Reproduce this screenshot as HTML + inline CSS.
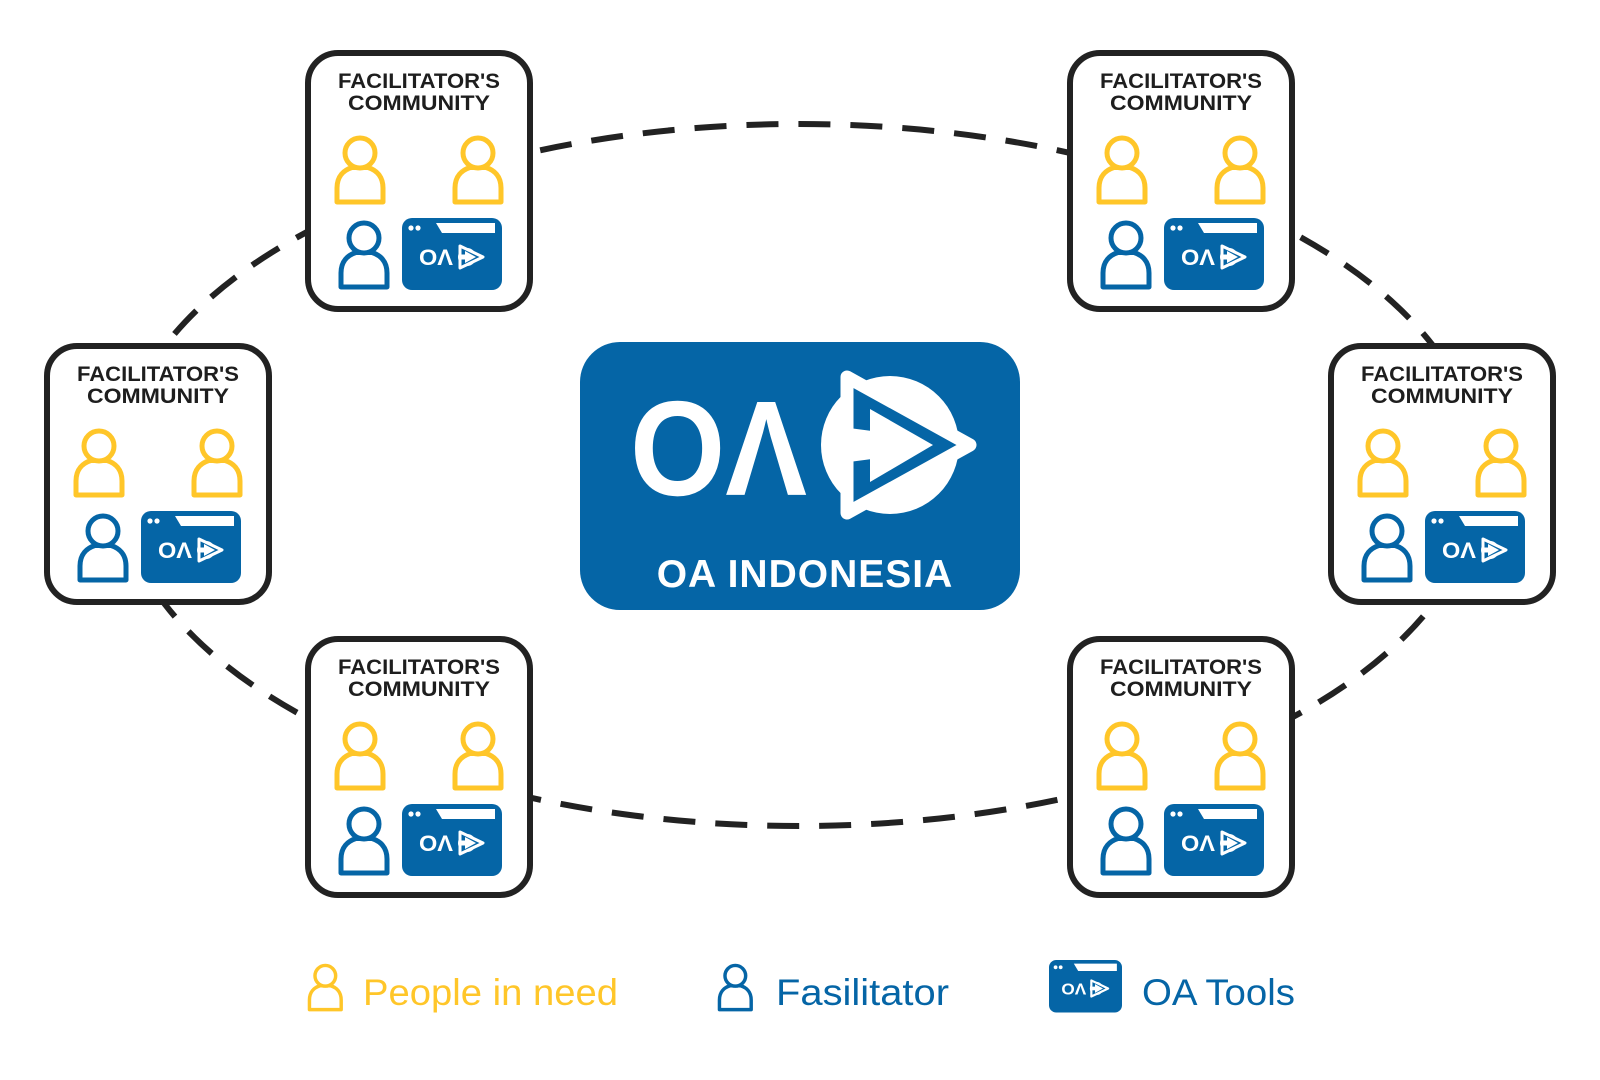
<!DOCTYPE html>
<html><head><meta charset="utf-8"><style>
html,body{margin:0;padding:0;background:#fff;width:1600px;height:1080px;overflow:hidden}
svg{display:block}
</style></head><body>
<svg width="1600" height="1080" viewBox="0 0 1600 1080" xmlns="http://www.w3.org/2000/svg">
<defs>
<g id="person">
<path d="M5,69 V55 C5,43 12,37 20,34.5 L36,34.5 C44,37 51,43 51,55 V69 Z" fill="#fff" stroke-width="5" stroke-linejoin="round"/>
<circle cx="28" cy="20" r="15" fill="#fff" stroke-width="5"/>
</g>
<g id="tool">
<rect x="0" y="0" width="100" height="72" rx="10" fill="#0565A6"/>
<polygon points="34,5 93,5 93,15 40,15" fill="#fff"/>
<circle cx="9" cy="10" r="2.6" fill="#fff"/>
<circle cx="16" cy="10" r="2.6" fill="#fff"/>
<text x="17" y="47" font-family="Liberation Sans, sans-serif" font-weight="bold" font-size="22" fill="#fff" textLength="34" lengthAdjust="spacingAndGlyphs">OΛ</text>
<circle cx="65" cy="39" r="9" fill="#fff"/>
<polygon points="58,28 81,39 58,50" fill="#0565A6" stroke="#fff" stroke-width="3" stroke-linejoin="round"/>
<polygon points="63,33 74,39 63,45" fill="#fff"/>
<rect x="57" y="36.5" width="7" height="5" fill="#fff"/>
</g>
<g id="card">
<rect x="3" y="3" width="222" height="256" rx="30" fill="#fff" stroke="#222" stroke-width="6"/>
<text x="114" y="38" text-anchor="middle" font-family="Liberation Sans, sans-serif" font-weight="bold" font-size="21" fill="#1e1e1e" textLength="162" lengthAdjust="spacingAndGlyphs">FACILITATOR'S</text>
<text x="114" y="60" text-anchor="middle" font-family="Liberation Sans, sans-serif" font-weight="bold" font-size="21" fill="#1e1e1e" textLength="142" lengthAdjust="spacingAndGlyphs">COMMUNITY</text>
<use href="#person" x="27" y="83" stroke="#FFC629"/>
<use href="#person" x="145" y="83" stroke="#FFC629"/>
<use href="#person" x="31" y="168" stroke="#0565A6"/>
<use href="#tool" x="97" y="168"/>
</g>
</defs>

<ellipse cx="799" cy="475" rx="682" ry="351" fill="none" stroke="#222" stroke-width="6" stroke-dasharray="32 20"/>

<use href="#card" x="305" y="50"/>
<use href="#card" x="1067" y="50"/>
<use href="#card" x="44" y="343"/>
<use href="#card" x="1328" y="343"/>
<use href="#card" x="305" y="636"/>
<use href="#card" x="1067" y="636"/>

<rect x="580" y="342" width="440" height="268" rx="40" fill="#0565A6"/>
<text x="630" y="495" font-family="Liberation Sans, sans-serif" font-weight="bold" font-size="135" fill="#fff" textLength="177" lengthAdjust="spacingAndGlyphs">OΛ</text>
<circle cx="890" cy="445" r="69" fill="#fff"/>
<polygon points="847,377 970,445 847,513" fill="#0565A6" stroke="#fff" stroke-width="13" stroke-linejoin="round"/>
<polygon points="870,409 933,445 870,482" fill="#fff"/>
<polygon points="849,428 872,431 872,459 849,462" fill="#fff"/>
<text x="805" y="587" text-anchor="middle" font-family="Liberation Sans, sans-serif" font-weight="bold" font-size="39" fill="#fff" letter-spacing="1">OA INDONESIA</text>

<g transform="translate(306,962) scale(0.69)"><use href="#person" stroke="#FFC629"/></g>
<text x="363" y="1005" font-family="Liberation Sans, sans-serif" font-size="37" fill="#FFC629" textLength="255" lengthAdjust="spacingAndGlyphs">People in need</text>
<g transform="translate(716,962) scale(0.69)"><use href="#person" stroke="#0565A6"/></g>
<text x="776" y="1005" font-family="Liberation Sans, sans-serif" font-size="37" fill="#0565A6" textLength="173" lengthAdjust="spacingAndGlyphs">Fasilitator</text>
<g transform="translate(1049,960) scale(0.73)"><use href="#tool"/></g>
<text x="1142" y="1005" font-family="Liberation Sans, sans-serif" font-size="37" fill="#0565A6" textLength="153" lengthAdjust="spacingAndGlyphs">OA Tools</text>
</svg>
</body></html>
